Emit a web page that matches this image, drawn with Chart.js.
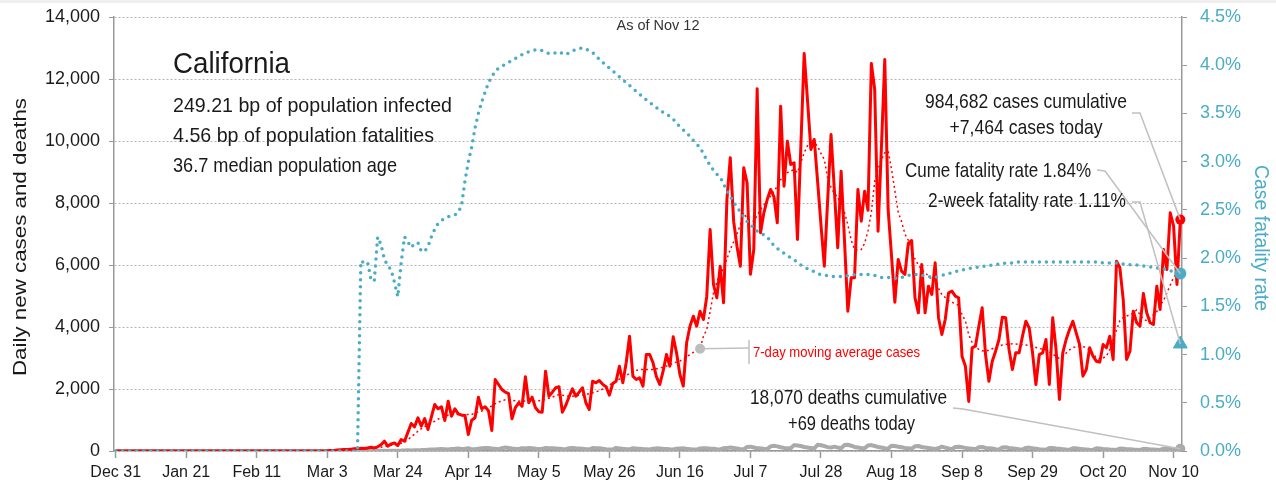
<!DOCTYPE html>
<html>
<head>
<meta charset="utf-8">
<title>California</title>
<script src="https://cdn.jsdelivr.net/npm/chart.js@4.4.1/dist/chart.umd.min.js"></script>
<style>
    html, body { margin: 0; padding: 0; background: #ffffff; }
    #wrap { width: 1276px; height: 493px; }
</style>
</head>
<body>
<div id="wrap"><canvas id="chart" width="1276" height="493"></canvas></div>
<script>
// day 0 = Dec 31 2019, last day = Nov 12 2020
const startDate = [2019, 11, 31];
const tickLabels = ['Dec 31', 'Jan 21', 'Feb 11', 'Mar 3', 'Mar 24', 'Apr 14', 'May 5', 'May 26',
    'Jun 16', 'Jul 7', 'Jul 28', 'Aug 18', 'Sep 8', 'Sep 29', 'Oct 20', 'Nov 10'];

const dailyCases = [
    0, 0, 0, 0, 0, 0, 0, 0, 0, 0,
    0, 0, 0, 0, 0, 0, 0, 0, 0, 0,
    0, 0, 0, 0, 0, 0, 0, 0, 0, 0,
    0, 0, 0, 0, 0, 0, 0, 0, 0, 0,
    0, 0, 0, 0, 0, 0, 0, 0, 0, 0,
    0, 0, 0, 0, 0, 0, 0, 0, 0, 0,
    0, 0, 0,
    10, 15, 20, 30, 40, 50, 50, 60, 70, 80, 90, 80, 100, 120, 100,
    135, 200, 316, 155, 230, 260, 177, 371, 316, 600,
    887, 780, 1070, 801, 1048, 694, 1103, 1500, 1361, 1426,
    984, 1607, 1123, 1361, 1200, 1155, 1145, 532, 994, 1070,
    1736, 1361, 1426, 1300, 661, 2307, 2145, 1984, 1897, 1850,
    1039, 1400, 1555, 1445, 2394, 1555, 1736, 1394, 1264, 1252,
    2575, 1768, 1897, 2039, 2071, 1252, 1468, 1750, 2007, 1768,
    1900, 2039, 1555, 1339, 2252, 2200, 2274, 2150, 2071, 1800,
    2178, 2252, 2736, 2200, 2845, 3703, 2413, 2307, 2361, 2091,
    3113, 3113, 2845, 2400, 2145, 2575, 3113, 2736, 3684, 3168,
    2468, 2091, 3491, 4026, 4349, 4026, 4510, 4242, 4994, 7146,
    5371, 4942, 5962, 4781, 8113, 9458, 7413, 6600, 5962, 9136,
    8652, 5700, 6500, 11685, 7039, 7684, 8113, 8436, 8200, 7362,
    11123, 8542, 9994, 9242, 9297, 6823, 9800, 12823, 11300, 9726,
    10049, 8700, 7300, 5962, 8100, 10210, 8400, 6555, 9026, 6800,
    4510, 5587, 5587, 8436, 7413, 8381, 7768, 12501, 11662, 7091,
    9800, 12630, 7791, 6300, 4800, 6178, 5800, 5700, 6694, 6791,
    4942, 4458, 6017, 4458, 5317, 5049, 6071, 4300, 3758, 4242,
    5103, 5156, 4994, 4942, 3058, 2736, 1600, 3329, 3381, 4026,
    4620, 3113, 2252, 2897, 3220, 3597, 4316, 4297, 3274, 2629,
    3168, 3168, 3703, 4187, 3974, 3168, 2145, 3113, 3168, 3597,
    2145, 4297, 3274, 1661, 3168, 3597, 3920, 4187, 3813, 3436,
    2413, 2629, 3329, 3058, 2897, 2865, 3436, 3329, 3703, 2952,
    6123, 5910, 4888, 2952, 3220, 4510, 4136, 4026, 5081, 4458,
    4136, 4081, 5317, 4565, 6500, 5855, 7684, 7252, 5371, 7464
];

const movingAvgCases = [
    0, 0, 0, 0, 0, 0, 0, 0, 0, 0,
    0, 0, 0, 0, 0, 0, 0, 0, 0, 0,
    0, 0, 0, 0, 0, 0, 0, 0, 0, 0,
    0, 0, 0, 0, 0, 0, 0, 0, 0, 0,
    0, 0, 0, 0, 0, 0, 0, 0, 0, 0,
    0, 0, 0, 0, 0, 0, 0, 0, 0, 0,
    0, 0, 0,
    5, 8, 12, 17, 23, 29, 36, 44, 50, 57,
    66, 72, 79, 89, 93, 102, 119, 148, 155, 180,
    206, 219, 250, 300, 360, 460, 540, 640, 720, 790,
    830, 910, 960, 1030, 1080, 1100, 1160, 1170, 1180, 1180,
    1180, 1175, 1175, 1180, 1230, 1260, 1290, 1340, 1400, 1450,
    1520, 1580, 1620, 1650, 1660, 1640, 1620, 1610, 1600, 1610,
    1610, 1610, 1610, 1620, 1640, 1660, 1700, 1740, 1780, 1820,
    1800, 1780, 1770, 1770, 1780, 1800, 1810, 1820, 1850, 1880,
    1910, 1940, 2000, 2060, 2120, 2200, 2260, 2320, 2370, 2430,
    2500, 2560, 2600, 2630, 2630, 2630, 2630, 2630, 2650, 2680,
    2700, 2740, 2780, 2830, 2870, 2900, 2960, 3040, 3110, 3180,
    3240, 3300, 3700, 3920, 4500, 5100, 5450, 5700, 5900, 6200,
    6500, 6750, 7000, 7300, 7680, 7500, 7430, 7410, 7600, 7790,
    7930, 8080, 8220, 8380, 8540, 8750, 8850, 8980, 9030, 9080,
    8980, 9300, 9620, 9850, 10050, 9950, 9830, 9600, 9400, 8800,
    8500, 8300, 8200, 7900, 7700, 7300, 6800, 6500, 6480, 6500,
    6700, 7100, 7700, 8700, 9100, 9400, 9620, 9670, 9100, 8400,
    7700, 7400, 7000, 6800, 6500, 6200, 6000, 5850, 5750, 5650,
    5550, 5500, 5250, 5050, 4950, 4850, 4800, 4750, 4700, 4400,
    4200, 3750, 3500, 3350, 3280, 3230, 3220, 3250, 3300, 3340,
    3380, 3420, 3440, 3450, 3460, 3450, 3440, 3430, 3420, 3400,
    3370, 3340, 3310, 3280, 3260, 3200, 3120, 3060, 2980, 3050,
    3160, 3260, 3330, 3370, 3380, 3370, 3330, 3250, 3150, 3000,
    2960, 3000, 3060, 3280, 3600, 3900, 4200, 4300, 4350, 4400,
    4450, 4550, 4400, 4250, 4200, 4300, 4400, 4500, 4700, 4850,
    5100, 5350, 5600, 5750, 5750
];

const dailyDeaths = [
    0, 0, 0, 0, 0, 0, 0, 0, 0, 0,
    0, 0, 0, 0, 0, 0, 0, 0, 0, 0,
    0, 0, 0, 0, 0, 0, 0, 0, 0, 0,
    0, 0, 0, 0, 0, 0, 0, 0, 0, 0,
    0, 0, 0, 0, 0, 0, 0, 0, 0, 0,
    0, 0, 0, 0, 0, 0, 0, 0, 0, 0,
    0,
    0, 0, 0, 1, 0, 1, 0, 1, 1, 1, 1, 1, 2, 1, 1, 4, 3, 2, 5, 7, 4, 8, 11, 10, 13, 20, 21, 18, 22, 28, 30,
    36, 42, 45, 50, 55, 62, 58, 48, 68, 72, 80, 65, 70, 90, 55, 60, 75, 85, 95, 100, 80, 70, 60, 90, 110, 95, 80, 70, 65, 90,
    85, 100, 90, 75, 60, 70, 95, 90, 85, 80, 75, 65, 60, 90, 95, 85, 80, 70, 60, 55, 95, 85, 90, 75, 60, 50, 45, 100, 85, 70, 60,
    55, 90, 80, 75, 65, 60, 50, 70, 85, 80, 70, 65, 55, 50, 75, 80, 85, 70, 60, 50, 45, 80, 90, 85, 75, 70, 55, 50, 90, 100,
    110, 95, 80, 60, 55, 130, 140, 115, 90, 85, 70, 60, 150, 170, 150, 120, 100, 85, 90, 190, 175, 160, 130, 110, 95, 80, 200, 185, 160, 125, 110,
    140, 110, 90, 190, 200, 170, 130, 110, 95, 85, 180, 190, 160, 130, 110, 90, 80, 170, 160, 140, 120, 100, 90, 75, 150, 160, 130, 110, 95, 80, 65,
    90, 140, 110, 80, 60, 130, 140, 120, 100, 85, 70, 55, 120, 130, 100, 90, 80, 60, 50, 110, 120, 95, 85, 70, 55, 45, 100, 110, 85, 75,
    60, 50, 40, 95, 100, 80, 70, 60, 45, 40, 90, 85, 70, 60, 50, 40, 35, 85, 80, 65, 55, 45, 40, 35, 80, 75, 60, 55, 45, 40, 35,
    70, 65, 50, 45, 40, 35, 75, 70, 55, 50, 45, 69
];

// case fatality rate, percent
const fatalityRate = [
    0, 0, 0, 0, 0, 0, 0, 0, 0, 0,
    0, 0, 0, 0, 0, 0, 0, 0, 0, 0,
    0, 0, 0, 0, 0, 0, 0, 0, 0, 0,
    0, 0, 0, 0, 0, 0, 0, 0, 0, 0,
    0, 0, 0, 0, 0, 0, 0, 0, 0, 0,
    0, 0, 0, 0, 0, 0, 0, 0, 0, 0,
    0, 0, 0, 0, 0, 0, 0, 0, 0, 0,
    0, 0, 0,
    1.97, 1.95, 1.96, 1.78, 1.76, 2.22, 2.14, 1.99, 1.92, 1.88,
    1.75, 1.60, 1.95, 2.22, 2.17, 2.11, 2.15, 2.16, 2.07, 2.07,
    2.12, 2.22, 2.30, 2.36, 2.39, 2.41, 2.43, 2.44, 2.45, 2.47,
    2.55, 2.80, 3.00, 3.15, 3.35, 3.50, 3.62, 3.72, 3.82, 3.88,
    3.94, 3.97, 3.99, 4.01, 4.03, 4.05, 4.07, 4.09, 4.11, 4.13,
    4.14, 4.15, 4.16, 4.16, 4.15, 4.14, 4.12, 4.12, 4.13, 4.14,
    4.12, 4.11, 4.13, 4.15, 4.16, 4.17, 4.18, 4.17, 4.15, 4.13,
    4.10, 4.06, 4.03, 4.00, 3.97, 3.94, 3.91, 3.88, 3.85, 3.82,
    3.79, 3.76, 3.73, 3.70, 3.67, 3.64, 3.61, 3.59, 3.56, 3.54,
    3.51, 3.49, 3.47, 3.44, 3.40, 3.36, 3.33, 3.30, 3.26, 3.22,
    3.18, 3.15, 3.08, 3.02, 2.96, 2.91, 2.87, 2.84, 2.77, 2.70,
    2.64, 2.58, 2.53, 2.48, 2.43, 2.38, 2.35, 2.31, 2.28, 2.26,
    2.24, 2.22, 2.17, 2.13, 2.10, 2.07, 2.05, 2.03, 2.00, 1.98,
    1.96, 1.93, 1.91, 1.89, 1.87, 1.86, 1.84, 1.83, 1.82, 1.82,
    1.81, 1.81, 1.81, 1.81, 1.81, 1.82, 1.82, 1.83, 1.83, 1.83,
    1.83, 1.83, 1.82, 1.82, 1.81, 1.80, 1.80, 1.80, 1.80, 1.79,
    1.79, 1.80, 1.81, 1.82, 1.83, 1.83, 1.83, 1.82, 1.82, 1.81,
    1.80, 1.80, 1.81, 1.82, 1.83, 1.84, 1.85, 1.86, 1.87, 1.88,
    1.88, 1.89, 1.90, 1.90, 1.91, 1.91, 1.92, 1.92, 1.93, 1.93,
    1.94, 1.94, 1.95, 1.95, 1.95, 1.96, 1.96, 1.96, 1.96, 1.96,
    1.96, 1.96, 1.96, 1.96, 1.96, 1.96, 1.96, 1.96, 1.96, 1.96,
    1.96, 1.96, 1.96, 1.96, 1.96, 1.96, 1.96, 1.96, 1.96, 1.96,
    1.96, 1.95, 1.95, 1.95, 1.95, 1.95, 1.94, 1.94, 1.94, 1.93,
    1.93, 1.93, 1.92, 1.92, 1.91, 1.91, 1.90, 1.90, 1.89, 1.89,
    1.88, 1.87, 1.86, 1.85, 1.84
];

const twoWeekRate = 1.11;
const maLabelDay = 174;

const FONT = "'Liberation Sans', Arial, sans-serif";
const TEAL = '#4bacc6';
const RED = '#ff0000';
const GREY = '#aaaaaa';
const TEXT = '#1a1a1a';

const monthNames = ['Jan', 'Feb', 'Mar', 'Apr', 'May', 'Jun', 'Jul', 'Aug', 'Sep', 'Oct', 'Nov', 'Dec'];
const dayLabels = dailyCases.map((v, i) => {
    const d = new Date(startDate[0], startDate[1], startDate[2] + i);
    return monthNames[d.getMonth()] + ' ' + d.getDate();
});
const lastDay = dailyCases.length - 1;
const twoWeekData = dailyCases.map((v, i) => i === lastDay ? twoWeekRate : null);

// draws text squeezed to a given width, to mimic the condensed face of the original
function drawFit(ctx, str, x, y, size, align, width, color, angle) {
    ctx.save();
    ctx.font = size + 'px ' + FONT;
    ctx.fillStyle = color || TEXT;
    ctx.textBaseline = angle ? 'middle' : 'alphabetic';
    ctx.textAlign = align;
    const sx = width / ctx.measureText(str).width;
    ctx.translate(x, y);
    if (angle) ctx.rotate(angle);
    ctx.scale(sx, 1);
    ctx.fillText(str, 0, 0);
    ctx.restore();
}

function drawLeader(ctx, points) {
    ctx.beginPath();
    ctx.moveTo(points[0][0], points[0][1]);
    for (let i = 1; i < points.length; i++) {
        ctx.lineTo(points[i][0], points[i][1]);
    }
    ctx.strokeStyle = '#c0c0c0';
    ctx.lineWidth = 1.5;
    ctx.stroke();
}

const annotations = {
    id: 'annotations',
    beforeDraw(chart) {
        const ctx = chart.ctx;
        ctx.save();
        ctx.fillStyle = '#ffffff';
        ctx.fillRect(0, 0, chart.width, chart.height);
        ctx.fillStyle = '#efefef';
        ctx.fillRect(0, 0, chart.width, 3);
        ctx.restore();
    },
    afterDatasetsDraw(chart) {
        const ctx = chart.ctx;
        const x = chart.scales.x;
        const y = chart.scales.y;
        const y2 = chart.scales.y2;
        const area = chart.chartArea;
        const midY = (area.top + area.bottom) / 2;
        const xl = x.getPixelForValue(lastDay);
        ctx.save();

        drawFit(ctx, 'Daily new cases and deaths', 21, midY + 3, 18, 'center', 278, TEXT, -Math.PI / 2);
        drawFit(ctx, 'Case fatality rate', 1261, midY + 4, 20, 'center', 146, TEAL, Math.PI / 2);

        drawFit(ctx, 'As of Nov 12', 658, 30, 15, 'center', 83, '#333');
        drawFit(ctx, 'California', 173, 73, 29, 'left', 117);
        drawFit(ctx, '249.21 bp of population infected', 173, 112, 21, 'left', 279);
        drawFit(ctx, '4.56 bp of population fatalities', 173, 142, 21, 'left', 261);
        drawFit(ctx, '36.7 median population age', 173, 172, 21, 'left', 224);

        drawLeader(ctx, [[1132, 113], [1140, 113], [xl, y.getPixelForValue(dailyCases[lastDay])]]);
        drawFit(ctx, '984,682 cases cumulative', 1026, 108, 21, 'center', 202);
        drawFit(ctx, '+7,464 cases today', 1026, 134, 21, 'center', 153);

        drawLeader(ctx, [[1097, 170], [1105, 171], [xl, y2.getPixelForValue(fatalityRate[lastDay])]]);
        drawFit(ctx, 'Cume fatality rate 1.84%', 1091, 177, 21, 'right', 186);

        drawLeader(ctx, [[1132, 202], [1140, 202], [xl, y2.getPixelForValue(twoWeekRate)]]);
        drawFit(ctx, '2-week fatality rate 1.11%', 1126, 207, 21, 'right', 198);

        drawLeader(ctx, [[953, 408], [963, 409], [xl, y.getPixelForValue(dailyDeaths[lastDay])]]);
        drawFit(ctx, '18,070 deaths cumulative', 947, 404, 21, 'right', 197);
        drawFit(ctx, '+69 deaths today', 915, 430, 21, 'right', 127);

        const mx = x.getPixelForValue(maLabelDay);
        const my = y.getPixelForValue(movingAvgCases[maLabelDay]);
        drawLeader(ctx, [[mx, my], [749, 348]]);
        drawLeader(ctx, [[749, 340], [749, 364]]);
        drawFit(ctx, '7-day moving average cases', 753, 357, 15, 'left', 167, RED);

        ctx.restore();
    }
};

function lastOnly(radius) {
    return function (c) {
        return c.dataIndex === lastDay ? radius : 0;
    };
}

// fixed axis boxes so the plot area sits where the original one does
function fitY(width) {
    return function (s) {
        s.width = width;
        s.paddingTop = 0;
        s.paddingBottom = 0;
    };
}

Chart.defaults.font.family = FONT;
Chart.defaults.color = TEXT;

const ctx = document.getElementById('chart').getContext('2d');
const chart = new Chart(ctx, {
    type: 'line',
    data: {
        labels: dayLabels,
        datasets: [
            {
                label: '2-week fatality rate',
                data: twoWeekData,
                yAxisID: 'y2',
                showLine: false,
                pointStyle: 'triangle',
                pointRadius: 8,
                backgroundColor: TEAL,
                borderColor: TEAL,
                order: 0
            },
            {
                label: 'Case fatality rate',
                data: fatalityRate,
                yAxisID: 'y2',
                borderColor: TEAL,
                backgroundColor: TEAL,
                borderWidth: 3.5,
                borderDash: [0, 7],
                borderCapStyle: 'round',
                pointRadius: lastOnly(6),
                pointBorderWidth: 0,
                tension: 0,
                order: 1
            },
            {
                label: 'Daily new cases',
                data: dailyCases,
                yAxisID: 'y',
                borderColor: RED,
                backgroundColor: RED,
                borderWidth: 3,
                borderJoinStyle: 'round',
                pointRadius: lastOnly(5),
                pointBorderWidth: 0,
                tension: 0,
                order: 2
            },
            {
                label: '7-day moving average cases',
                data: movingAvgCases,
                yAxisID: 'y',
                borderColor: RED,
                backgroundColor: '#bdbdbd',
                borderWidth: 1.5,
                borderDash: [2, 3],
                pointRadius: c => c.dataIndex === maLabelDay ? 5 : 0,
                pointBorderWidth: 0,
                tension: 0,
                order: 3
            },
            {
                label: 'Daily deaths',
                data: dailyDeaths,
                yAxisID: 'y',
                borderColor: GREY,
                backgroundColor: GREY,
                borderWidth: 4,
                borderJoinStyle: 'round',
                pointRadius: lastOnly(5),
                pointBorderWidth: 0,
                tension: 0,
                order: 4
            }
        ]
    },
    options: {
        responsive: false,
        animation: false,
        devicePixelRatio: 1,
        layout: { padding: { top: 17, left: 0, right: 0, bottom: 0 } },
        plugins: {
            legend: { display: false },
            tooltip: { enabled: false },
            title: { display: false }
        },
        scales: {
            x: {
                type: 'category',
                offset: true,
                afterFit: s => { s.height = 42; s.paddingLeft = 0; s.paddingRight = 0; },
                border: { display: true, color: '#999999', width: 1.5 },
                grid: {
                    drawOnChartArea: false,
                    drawTicks: true,
                    tickLength: 7,
                    tickColor: c => c.index % 21 === 0 ? '#999999' : 'rgba(0,0,0,0)',
                    tickWidth: 1.5
                },
                ticks: {
                    autoSkip: false,
                    maxRotation: 0,
                    minRotation: 0,
                    padding: 5,
                    color: TEXT,
                    font: { size: 16 },
                    callback: (v, i) => i % 21 === 0 ? tickLabels[i / 21] : ''
                }
            },
            y: {
                position: 'left',
                min: 0,
                max: 14000,
                afterFit: fitY(114),
                border: { display: true, color: '#999999', width: 1.5, dash: [2, 2] },
                grid: {
                    color: '#b5b5b5',
                    lineWidth: 1,
                    tickLength: 5,
                    tickColor: '#999999',
                    tickBorderDash: []
                },
                ticks: {
                    stepSize: 2000,
                    padding: 9,
                    color: TEXT,
                    font: { size: 18 },
                    callback: v => v.toLocaleString('en-US')
                }
            },
            y2: {
                position: 'right',
                min: 0,
                max: 4.5,
                afterFit: fitY(94),
                border: { display: true, color: '#999999', width: 1.5 },
                grid: {
                    drawOnChartArea: false,
                    tickLength: 5,
                    tickColor: '#999999'
                },
                ticks: {
                    stepSize: 0.5,
                    padding: 13,
                    color: TEAL,
                    font: { size: 18 },
                    callback: v => v.toFixed(1) + '%'
                }
            }
        }
    },
    plugins: [annotations]
});
</script>
</body>
</html>
